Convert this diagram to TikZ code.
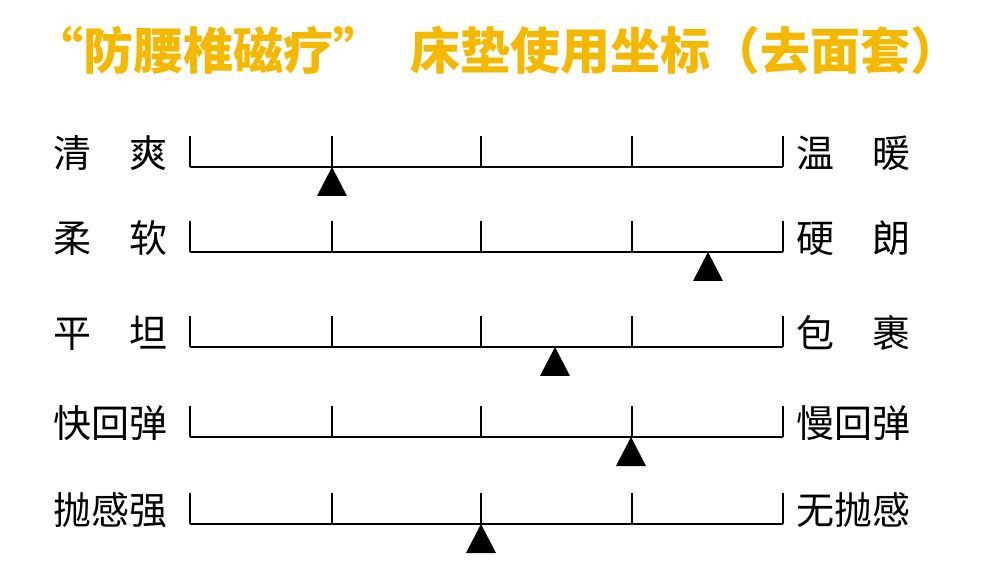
\documentclass[tikz,border=0pt]{standalone}
\usepackage{fontspec}
\newfontfamily\cjk{Noto Sans CJK SC}
\definecolor{ttl}{HTML}{F5B800}
\begin{document}
\begin{tikzpicture}[x=1pt,y=-1pt,
  lab/.style={font=\cjk\fontsize{38}{44}\selectfont,inner sep=0pt},
  bar/.style={line width=1.6pt},
  tri/.style={fill=black,draw=none}]
\useasboundingbox (0,0) rectangle (999,577);
\node[font=\cjk\bfseries\fontsize{50}{56}\selectfont,text=ttl,anchor=west,inner sep=0pt] (title) at (33,50) {“防腰椎磁疗”\hspace{0.55em}床垫使用坐标（去面套）};
\foreach \y/\l/\r/\t [count=\i] in {167/{清\hspace{1em}爽}/{温\hspace{1em}暖}/332, 252/{柔\hspace{1em}软}/{硬\hspace{1em}朗}/708, 347/{平\hspace{1em}坦}/{包\hspace{1em}裹}/555, 437/快回弹/慢回弹/631, 524/抛感强/无抛感/481}{
  \node[lab,anchor=west] (L\i) at (53,\y-14) {\l};
  \node[lab,anchor=west] (R\i) at (796,\y-14) {\r};
  \draw[bar] (190,\y) -- (783,\y);
  \foreach \x in {190,332,481,632,783} \draw[bar] (\x,\y) -- (\x,\y-31);
  \fill[tri] (\t,\y) -- (\t+15,\y+29) -- (\t-15,\y+29) -- cycle;
}
\end{tikzpicture}
\end{document}
